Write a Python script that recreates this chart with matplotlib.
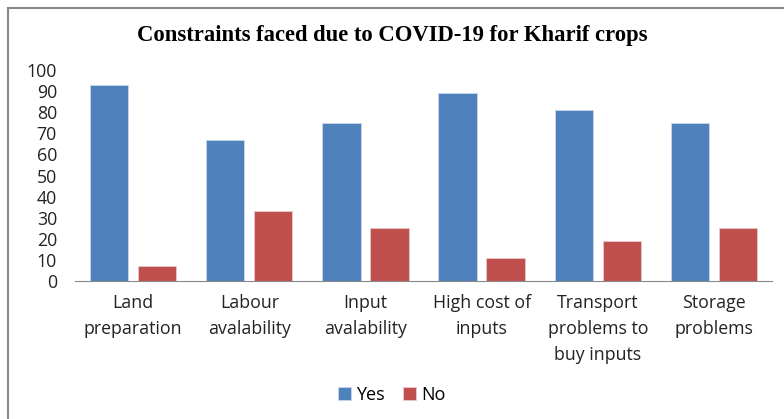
import numpy as np
import matplotlib.pyplot as plt
from matplotlib.patches import Rectangle

categories = ['Land\npreparation', 'Labour\navalability', 'Input\navalability',
              'High cost of\ninputs', 'Transport\nproblems to\nbuy inputs', 'Storage\nproblems']
yes_vals = [93, 67, 75, 89, 81, 75]
no_vals = [7, 33, 25, 11, 19, 25]

fig = plt.figure(figsize=(7.84, 4.19), dpi=100)
ax = fig.add_axes([0.0957, 0.329, 0.889, 0.504])

x = np.arange(len(categories))
w = 0.33
ax.bar(x - 0.207, yes_vals, w, color='#4F81BD', edgecolor='#c9d6ea', linewidth=0.6, label='Yes')
ax.bar(x + 0.207, no_vals, w, color='#C0504D', edgecolor='#ecc9c8', linewidth=0.6, label='No')

ax.set_xlim(-0.5, len(categories) - 0.5)
ax.set_ylim(0, 100)
ax.set_yticks(range(0, 101, 10))
ax.set_xticks(x)
ax.set_xticklabels(categories, fontsize=12.8, family='Open Sans', color='#222222', linespacing=1.6)
for t in ax.get_yticklabels():
    t.set_fontsize(12.8)
    t.set_family('Open Sans')
    t.set_color('#222222')
ax.tick_params(axis='y', length=0, pad=13)
ax.tick_params(axis='x', length=0, pad=9)
for s in ['top', 'right', 'left']:
    ax.spines[s].set_visible(False)
ax.spines['bottom'].set_color('#888888')

fig.text(0.5, 0.916, 'Constraints faced due to COVID-19 for Kharif crops',
         ha='center', va='center', fontsize=16.3, fontweight='bold', family='Liberation Serif')

leg = fig.legend(loc='center', bbox_to_anchor=(0.5, 0.058), ncol=2, frameon=False,
                 prop={'family': 'Open Sans', 'size': 13}, handlelength=0.7, handleheight=0.7,
                 handletextpad=0.3, columnspacing=1.0)

# outer chart frame
fig.patches.append(Rectangle((8 / 784, -0.1), 1.2, 1 - 8 / 419 + 0.1, transform=fig.transFigure,
                             fill=False, edgecolor='#888888', linewidth=1.5))

fig.savefig('out.png', dpi=100)
